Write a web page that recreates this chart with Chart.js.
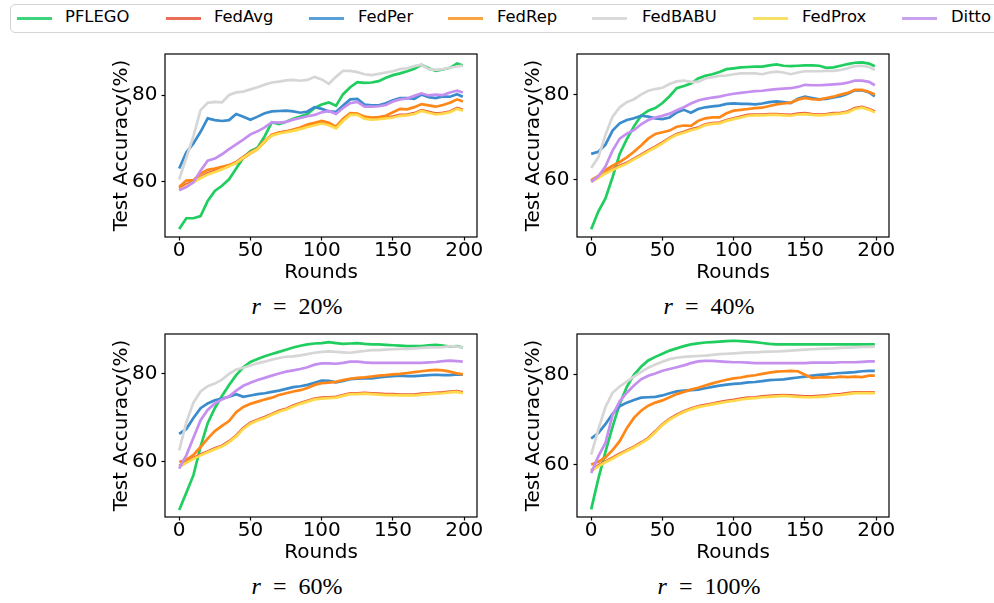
<!DOCTYPE html>
<html><head><meta charset="utf-8">
<script src="https://cdn.jsdelivr.net/npm/chart.js@4"></script>
<style>
body{margin:0;background:#fff;width:994px;height:603px;overflow:hidden;position:relative;font-family:"DejaVu Sans",sans-serif;}
canvas{position:absolute;}
#legendBox{position:absolute;left:10px;top:4px;width:1000px;height:29px;border:1.2px solid #d4d4d4;border-radius:5px;box-sizing:border-box;}
.sw{position:absolute;top:17px;height:2.6px;width:35px;}
.lt{position:absolute;top:9.4px;font-size:16.4px;line-height:16.4px;color:#000;white-space:nowrap;}
.cap{position:absolute;font-family:"Liberation Serif",serif;font-size:24px;line-height:24px;transform:translateX(-50%);white-space:nowrap;color:#000;}
</style></head>
<body>
<div id="legendBox"></div>
<canvas id="c20" width="399" height="245" style="left:100px;top:40px"></canvas>
<canvas id="c40" width="399" height="245" style="left:512px;top:40px"></canvas>
<canvas id="c60" width="399" height="245" style="left:100px;top:320px"></canvas>
<canvas id="c100" width="399" height="245" style="left:512px;top:320px"></canvas>
<script>
// ---- data ----
const rounds = [0,5,10,15,20,25,30,35,40,45,50,55,60,65,70,75,80,85,90,95,100,105,110,115,120,125,130,135,140,145,150,155,160,165,170,175,180,185,190,195,199];
const xTicks = [0,50,100,150,200];
const yTicks = [60,80];
const seriesNames = ['PFLEGO','FedAvg','FedPer','FedRep','FedBABU','FedProx','Ditto'];
const panelRates = ['20%','40%','60%','100%'];

// r = 20%
const pflego20 = [49,51.5,51.5,52.0,55.5,57.8,59.0,60.5,63.0,65.5,67.0,67.8,70.5,73.7,73.3,73.8,74.5,75.0,75.6,77.0,77.8,78.3,77.5,80.2,81.8,83.0,82.8,82.9,83.2,84.0,84.6,85.0,85.5,86.1,87.0,86.2,85.6,85.9,86.3,87.3,86.8];
const fedavg20 = [58.3,59.3,60.0,61.0,61.9,62.5,63.1,63.7,64.5,65.7,66.8,67.6,69.4,70.7,71.3,71.6,71.9,72.3,72.8,73.2,73.6,73.2,72.5,74.2,75.6,75.6,74.7,74.5,74.6,74.8,75.0,75.4,75.5,75.8,76.5,76.1,75.7,75.9,76.2,77.0,76.6];
const fedper20 = [63,66.7,68.8,71.5,74.6,74.2,74.0,74.2,75.6,75.0,74.3,75.0,75.8,76.2,76.3,76.4,76.2,75.9,76.2,77.2,76.8,76.2,76.1,77.6,79.0,79.1,77.8,77.6,77.6,78.1,78.8,79.3,79.3,79.1,80.1,79.5,79.3,79.7,79.6,80.2,79.6];
const fedrep20 = [58.7,60.2,60.3,61.8,62.7,63.0,63.4,63.8,64.3,65.4,66.5,67.5,69.2,70.8,71.3,71.5,72.0,72.5,73.2,73.6,74.0,73.6,72.7,74.5,75.8,75.7,75.0,74.8,74.9,75.2,76.0,76.8,76.7,77.2,77.9,77.6,77.3,77.7,78.2,79.0,78.5];
const fedbabu20 = [60.5,65.5,70.5,76.5,78.2,78.4,78.3,80.0,80.6,80.8,81.3,81.8,82.4,82.9,83.1,83.4,83.5,83.3,83.5,84.2,83.6,82.6,84.2,85.6,85.6,85.3,84.8,84.6,84.9,85.2,85.5,86.0,86.2,86.7,87.0,86.0,85.8,86.0,86.3,86.6,86.8];
const fedprox20 = [58,59.0,59.8,60.8,61.6,62.2,62.8,63.5,64.3,65.5,66.6,67.5,69.3,70.6,71.1,71.4,71.7,72.1,72.6,73.0,73.4,73.0,72.3,74.0,75.4,75.4,74.5,74.3,74.4,74.6,74.8,75.2,75.3,75.6,76.3,75.9,75.5,75.7,76.0,76.8,76.4];
const ditto20 = [58,58.7,59.8,62.5,64.8,65.3,66.3,67.5,68.6,69.7,70.9,71.6,72.5,73.7,73.6,73.8,74.3,74.7,75.1,75.4,76.0,76.3,75.6,77.0,78.1,78.4,77.3,77.3,77.4,77.7,78.5,79.0,79.2,79.8,80.4,79.9,80.1,80.0,80.6,81.0,80.6];

// r = 40%
const pflego40 = [48.2,52.4,55.5,60.5,66.0,69.5,72.5,75.0,76.2,76.8,78.0,79.6,81.5,82.0,82.6,83.8,84.4,84.8,85.3,86.0,86.2,86.4,86.5,86.6,86.6,86.9,87.1,86.8,86.7,86.8,86.9,86.9,86.8,86.3,86.4,86.8,87.2,87.5,87.6,87.3,86.7];
const fedavg40 = [59.6,60.5,61.6,62.4,63.2,63.9,64.9,65.8,66.8,67.7,68.7,69.8,70.7,71.2,71.8,72.2,73.0,73.3,73.4,74.0,74.4,74.8,75.2,75.3,75.3,75.4,75.4,75.3,75.2,75.5,75.6,75.4,75.3,75.4,75.6,75.7,76.0,76.8,77.1,76.6,76.0];
const fedper40 = [66,66.5,68.2,71.5,73.2,74.0,74.4,75.0,74.8,74.4,74.2,74.6,75.8,76.4,75.7,76.6,77.0,77.2,77.4,77.8,77.9,77.8,77.8,77.7,77.9,78.2,78.4,78.2,78.0,79.0,79.5,79.2,78.9,79.0,79.3,79.6,80.2,81.0,81.0,80.5,79.6];
const fedrep40 = [59.8,60.8,62.2,63.2,64.1,65.2,66.5,68.0,69.6,70.7,71.1,71.5,72.4,72.7,72.6,73.8,74.4,74.6,74.6,75.6,76.2,76.4,76.6,76.8,76.9,77.3,77.7,77.9,78.1,78.8,79.2,78.9,78.8,79.2,79.5,80.0,80.4,81.1,81.1,80.6,80.0];
const fedbabu40 = [62.7,65.2,70.5,74.8,77.0,78.2,78.9,80.0,80.9,81.3,81.6,82.5,83.1,83.3,83.0,83.0,83.8,84.1,84.4,84.5,84.8,85.0,85.0,85.0,84.8,85.2,85.4,85.2,84.8,85.2,85.5,85.5,85.5,85.6,85.6,85.8,86.2,86.7,86.8,86.5,85.8];
const fedprox40 = [59.4,60.3,61.4,62.2,63.0,63.7,64.7,65.6,66.6,67.5,68.5,69.6,70.5,71.0,71.6,72.0,72.8,73.1,73.2,73.8,74.2,74.6,75.0,75.1,75.1,75.2,75.2,75.1,75.0,75.3,75.4,75.2,75.1,75.2,75.4,75.5,75.8,76.6,76.9,76.4,75.8];
const ditto40 = [59.4,60.7,63.0,66.8,69.6,70.8,71.6,73.0,74.0,74.6,75.0,75.5,76.3,77.0,77.9,78.6,79.0,79.3,79.5,79.9,80.2,80.4,80.6,80.8,80.9,81.1,81.3,81.4,81.5,81.8,82.3,82.2,82.2,82.3,82.4,82.5,82.8,83.3,83.3,83.0,82.2];

// r = 60%
const pflego60 = [49.1,53.0,57.0,63.5,68.8,72.2,75.0,77.5,79.7,81.5,82.7,83.4,84.0,84.5,85.0,85.5,86.0,86.4,86.7,86.9,87.0,87.2,87.0,86.8,86.9,87.0,86.8,86.7,86.7,86.6,86.5,86.4,86.3,86.3,86.3,86.5,86.6,86.4,86.2,86.3,86.0];
const fedavg60 = [59.1,60.0,60.9,61.7,62.4,63.1,63.7,64.7,66.0,67.7,68.9,69.6,70.2,70.9,71.6,72.1,72.8,73.4,73.9,74.4,74.6,74.7,74.8,75.2,75.6,75.6,75.7,75.6,75.5,75.4,75.4,75.3,75.3,75.3,75.5,75.6,75.7,75.8,76.0,76.1,75.8];
const fedper60 = [66.4,67.5,70.0,72.2,73.3,74.0,74.4,74.8,75.4,74.8,75.1,75.4,75.6,75.9,76.2,76.6,77.0,77.2,77.5,78.0,78.5,78.4,78.1,78.4,78.8,78.9,79.0,79.0,79.2,79.4,79.5,79.6,79.5,79.5,79.6,79.7,79.8,79.7,79.7,79.9,79.8];
const fedrep60 = [60.0,60.5,61.6,63.4,65.3,67.0,68.2,69.3,71.3,72.5,73.2,73.7,74.2,74.6,75.2,75.6,76.0,76.3,76.8,77.5,77.9,78.0,78.2,78.6,78.9,79.1,79.2,79.4,79.6,79.7,79.9,80.0,80.2,80.4,80.6,80.8,80.9,80.8,80.5,80.1,79.9];
const fedbabu60 = [62.6,69.0,73.5,76.0,77.2,77.8,78.7,80.0,81.0,81.4,81.9,82.4,82.8,83.2,83.6,83.9,84.0,84.2,84.5,84.8,85.0,85.1,85.0,84.9,84.8,85.0,85.2,85.4,85.4,85.5,85.6,85.7,85.7,85.8,85.9,86.0,86.0,86.1,86.3,86.2,86.0];
const fedprox60 = [58.9,59.8,60.7,61.5,62.2,62.9,63.5,64.5,65.8,67.5,68.7,69.4,70.0,70.7,71.4,71.9,72.6,73.2,73.7,74.2,74.4,74.5,74.6,75.0,75.4,75.4,75.5,75.4,75.3,75.2,75.2,75.1,75.1,75.1,75.3,75.4,75.5,75.6,75.8,75.9,75.6];
const ditto60 = [58.5,61.5,65.5,69.5,71.8,73.3,74.2,74.9,76.2,77.3,78.0,78.6,79.1,79.6,80.1,80.5,80.8,81.1,81.5,82.1,82.4,82.4,82.3,82.5,82.8,82.8,82.6,82.5,82.5,82.5,82.5,82.5,82.5,82.5,82.5,82.6,82.7,82.9,83.0,82.9,82.8];

// r = 100%
const pflego100 = [50,56.8,62.8,68.4,73.5,77.3,80.0,81.8,83.2,84.0,84.7,85.4,85.9,86.4,86.8,87.0,87.2,87.3,87.4,87.5,87.6,87.5,87.4,87.3,87.1,86.9,86.8,86.8,86.8,86.8,86.8,86.8,86.8,86.8,86.8,86.8,86.8,86.8,86.8,86.8,86.8];
const fedavg100 = [58.7,59.8,60.7,61.5,62.4,63.2,64.0,64.9,65.9,67.4,69.0,70.2,71.1,71.9,72.5,73.0,73.3,73.6,73.9,74.2,74.4,74.7,74.9,75.0,75.2,75.3,75.4,75.5,75.4,75.3,75.2,75.2,75.3,75.4,75.6,75.7,75.9,76.1,76.1,76.1,76.1];
const fedper100 = [65.8,67.0,69.0,71.3,73.0,73.8,74.4,74.9,75.0,75.1,75.4,75.9,76.3,76.5,76.6,76.7,77.0,77.3,77.6,77.8,78.0,78.1,78.3,78.4,78.6,78.8,78.9,79.0,79.2,79.4,79.6,79.8,80.0,80.1,80.3,80.4,80.5,80.6,80.8,80.9,80.9];
const fedrep100 = [60.0,60.6,61.6,63.2,65.2,68.1,70.4,72.0,73.1,73.8,74.3,75.0,75.7,76.2,76.7,77.1,77.6,78.1,78.5,78.9,79.2,79.4,79.7,79.9,80.2,80.5,80.7,80.8,80.9,80.8,80.0,79.3,79.4,79.5,79.4,79.6,79.5,79.6,79.5,79.8,79.8];
const fedbabu100 = [62.2,67.8,72.8,76.0,77.4,78.5,79.6,80.6,81.6,82.3,82.9,83.5,83.8,84.0,84.1,84.2,84.3,84.45,84.6,84.7,84.8,84.9,85.0,85.0,85.1,85.15,85.2,85.3,85.4,85.5,85.6,85.7,85.8,85.85,85.9,86.0,86.05,86.1,86.2,86.25,86.3];
const fedprox100 = [58.5,59.6,60.5,61.3,62.2,63.0,63.8,64.7,65.7,67.2,68.8,70.0,70.9,71.7,72.3,72.8,73.1,73.4,73.7,74.0,74.2,74.5,74.7,74.8,75.0,75.1,75.2,75.3,75.2,75.1,75.0,75.0,75.1,75.2,75.4,75.5,75.7,75.9,75.9,75.9,75.9];
const ditto100 = [58.1,61.8,64.8,71.0,74.1,76.0,77.6,79.0,79.8,80.3,80.9,81.3,81.7,82.1,82.6,83.0,83.1,83.1,83.0,82.9,82.8,82.8,82.7,82.6,82.6,82.6,82.6,82.6,82.6,82.6,82.6,82.7,82.7,82.7,82.7,82.8,82.8,82.8,82.9,83.0,83.0];

// ---- styling ----
const lineColors = ['#1fce5e','#ec5b3f','#3a8ccd','#ff8717','#d6d6d6','#ffd94a','#c58ff0'];
const legendColors = ['#3dd47c','#ea6d55','#5aa0d8','#f9a443','#dadada','#f8e066','#c9a2ef'];
const legendLineX = [17,166,309,448,592,753,902];
const legendTextX = [65,214,358,497,642,802,951];

// legend (HTML)
seriesNames.forEach((n,i)=>{
  const s=document.createElement('div'); s.className='sw'; s.style.left=legendLineX[i]+'px'; s.style.background=legendColors[i]; document.body.appendChild(s);
  const t=document.createElement('div'); t.className='lt'; t.style.left=legendTextX[i]+'px'; t.textContent=n; document.body.appendChild(t);
});

const frame = {
  id:'frame',
  afterDraw(chart){
    const {ctx, chartArea:a} = chart;
    ctx.save(); ctx.strokeStyle='#000'; ctx.lineWidth=1.2;
    ctx.strokeRect(a.left, a.top, a.right-a.left, a.bottom-a.top);
    ctx.restore();
  }
};

const font20 = {family:'DejaVu Sans', size:20};
function makeChart(id, series, yMin, yMax){
  new Chart(document.getElementById(id), {
    type:'line',
    data:{datasets: series.map((vals,i)=>({
      label: seriesNames[i],
      data: rounds.map((r,j)=>({x:r, y:vals[j]})),
      borderColor: lineColors[i], backgroundColor: lineColors[i],
      borderWidth: 2.7, pointRadius:0, tension:0, fill:false, order: 7-i
    }))},
    options:{
      responsive:false, animation:false, devicePixelRatio:1, events:[],
      layout:{padding:{left:0, top:12, right:22, bottom:0}},
      plugins:{legend:{display:false}, tooltip:{enabled:false}},
      scales:{
        x:{type:'linear', min:-9.95, max:208.95,
          afterBuildTicks:s=>{s.ticks=xTicks.map(v=>({value:v}));},
          afterFit:s=>{s.height=48;},
          grid:{display:true, drawOnChartArea:false, drawTicks:true, tickLength:3.5, tickColor:'#000', tickWidth:1.2},
          border:{display:false},
          ticks:{color:'#000', font:{...font20, lineHeight:1}, padding:0, maxRotation:0, autoSkip:false},
          title:{display:true, text:'Rounds', color:'#000', font:{...font20, lineHeight:1.2}, padding:0}
        },
        y:{type:'linear', min:yMin, max:yMax,
          afterBuildTicks:s=>{s.ticks=yTicks.map(v=>({value:v}));},
          afterFit:s=>{s.width=65;},
          grid:{display:true, drawOnChartArea:false, drawTicks:true, tickLength:3.5, tickColor:'#000', tickWidth:1.2},
          border:{display:false},
          ticks:{color:'#000', font:{...font20, lineHeight:1}, padding:4, autoSkip:false},
          title:{display:true, text:'Test Accuracy(%)', color:'#000', font:{...font20, lineHeight:1.2}, padding:{top:9.5, bottom:0}}
        }
      }
    },
    plugins:[frame]
  });
}

makeChart('c20', [pflego20,fedavg20,fedper20,fedrep20,fedbabu20,fedprox20,ditto20], 47.16, 89.49);
makeChart('c40', [pflego40,fedavg40,fedper40,fedrep40,fedbabu40,fedprox40,ditto40], 46.4, 89.57);
makeChart('c60', [pflego60,fedavg60,fedper60,fedrep60,fedbabu60,fedprox60,ditto60], 47.5, 89.06);
makeChart('c100', [pflego100,fedavg100,fedper100,fedrep100,fedbabu100,fedprox100,ditto100], 48.3, 89.1);

// panel captions
const capPos = [[297,293.6],[709,293.6],[297,573.6],[709,573.6]];
panelRates.forEach((p,i)=>{
  const d=document.createElement('div'); d.className='cap';
  d.style.left=capPos[i][0]+'px'; d.style.top=capPos[i][1]+'px';
  d.innerHTML='<i>r</i>\u2002=\u2002'+p;
  document.body.appendChild(d);
});
</script>
</body></html>
